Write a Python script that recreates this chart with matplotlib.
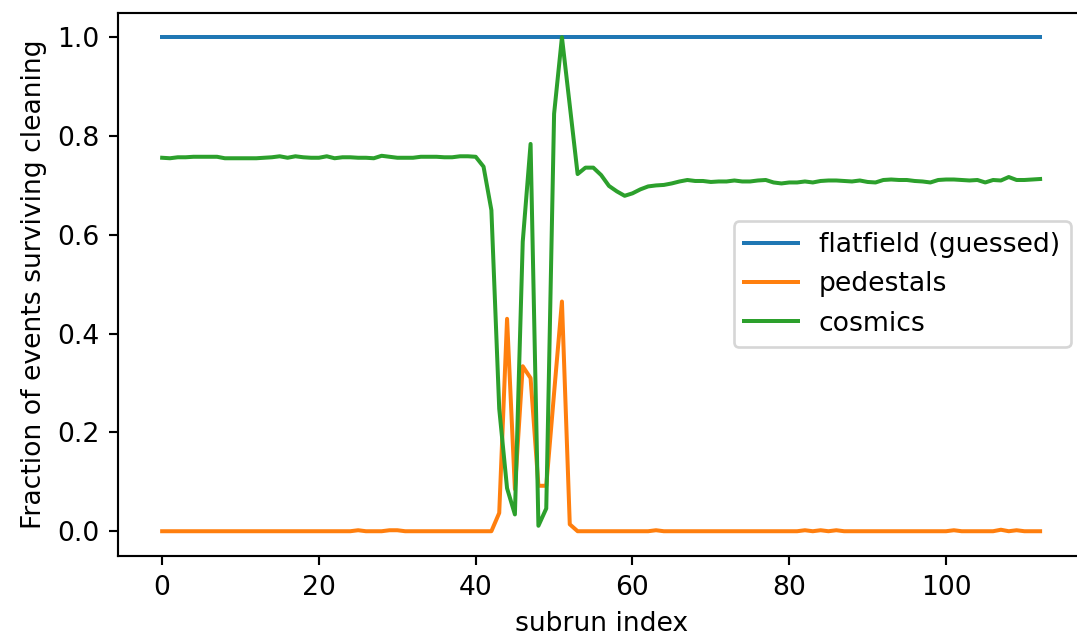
import matplotlib
matplotlib.use("Agg")
import matplotlib.pyplot as plt
import numpy as np

# %% data
subrun = np.arange(0, 113)

flatfield = [1.0] * 113

# pedestals: zero except the burst between subruns 43 and 52
pedestals = [0.0] * 113
pedestalBurst = {
    43: 0.037, 44: 0.430, 45: 0.085, 46: 0.334, 47: 0.310,
    48: 0.092, 49: 0.092, 50: 0.280, 51: 0.465, 52: 0.014,
}
pedestalBumps = {25: 0.002, 29: 0.002, 30: 0.002, 63: 0.002, 82: 0.002,
                 84: 0.002, 86: 0.002, 101: 0.002, 107: 0.003, 109: 0.002}
for k, v in pedestalBurst.items():
    pedestals[k] = v
for k, v in pedestalBumps.items():
    pedestals[k] = v

cosmics = [
    0.756, 0.755, 0.757, 0.757, 0.758, 0.758, 0.758, 0.758, 0.755, 0.755,
    0.755, 0.755, 0.755, 0.756, 0.757, 0.759, 0.756, 0.759, 0.757, 0.756,
    0.756, 0.759, 0.755, 0.757, 0.757, 0.756, 0.756, 0.755, 0.760, 0.758,
    0.756, 0.756, 0.756, 0.758, 0.758, 0.758, 0.757, 0.757, 0.759, 0.759,
    0.758, 0.738, 0.650, 0.248, 0.087, 0.034, 0.586, 0.784, 0.011, 0.046,
    0.845, 1.000, 0.862, 0.723, 0.736, 0.736, 0.721, 0.699, 0.688, 0.679,
    0.684, 0.692, 0.698, 0.700, 0.701, 0.704, 0.708, 0.711, 0.709, 0.709,
    0.707, 0.708, 0.708, 0.710, 0.708, 0.708, 0.710, 0.711, 0.706, 0.704,
    0.706, 0.706, 0.708, 0.706, 0.709, 0.710, 0.710, 0.709, 0.708, 0.710,
    0.707, 0.706, 0.711, 0.712, 0.711, 0.711, 0.709, 0.708, 0.706, 0.711,
    0.712, 0.712, 0.711, 0.710, 0.711, 0.706, 0.711, 0.710, 0.717, 0.711,
    0.711, 0.712, 0.713,
]

labels = ["flatfield (guessed)", "pedestals", "cosmics"]

# %% plot
dpi = 192
fig = plt.figure(figsize=(1077 / dpi, 639 / dpi), dpi=dpi)
ax = fig.add_axes([0.1098, 0.130, 0.8967, 0.8504])

ax.plot(subrun, flatfield, label=labels[0])
ax.plot(subrun, pedestals, label=labels[1])
ax.plot(subrun, cosmics, label=labels[2])

ax.set_xlabel("subrun index")
ax.set_ylabel("Fraction of events surviving cleaning")
ax.legend(loc="center right")

fig.savefig("out.png", dpi=dpi)
